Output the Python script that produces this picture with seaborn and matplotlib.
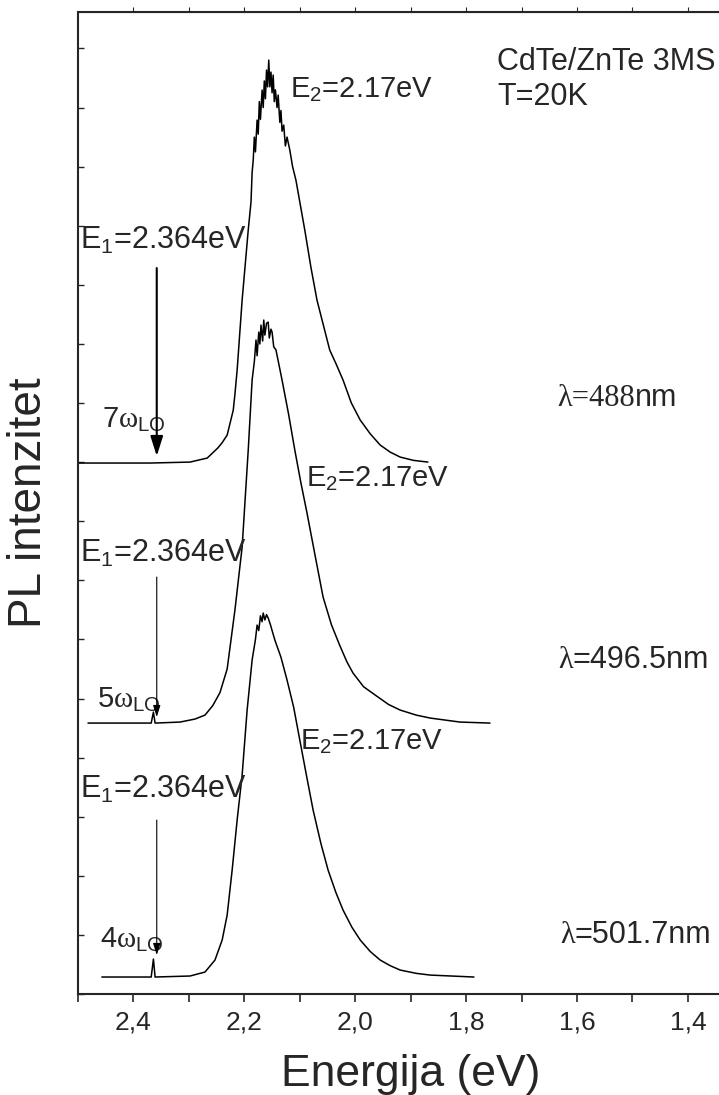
import matplotlib
matplotlib.use("Agg")
import matplotlib.pyplot as plt
import seaborn as sns

# PL spektri CdTe/ZnTe 3MS, T=20K, tri talasne duzine pobude
# energija (eV) i intenzitet (proizvoljne jedinice, vec pomereno po visini)

e_501 = [2.457, 2.388, 2.368, 2.364, 2.361, 2.298, 2.271, 2.253, 2.240, 2.231,
         2.222, 2.213, 2.204, 2.195, 2.186, 2.180, 2.177, 2.174, 2.171, 2.168,
         2.166, 2.163, 2.160, 2.157, 2.153, 2.145, 2.134, 2.123, 2.111, 2.100,
         2.088, 2.076, 2.062, 2.049, 2.035, 2.022, 2.006, 1.991, 1.973, 1.955,
         1.937, 1.919, 1.890, 1.865, 1.786]
i_501 = [288, 288, 288, 592, 288, 305, 372, 575, 914, 1337,
         2098, 2944, 3705, 4805, 5651, 6000, 6243, 6150, 6400, 6300,
         6447, 6330, 6420, 6362, 6250, 5990, 5700, 5313, 4850, 4298,
         3700, 3113, 2550, 2098, 1720, 1421, 1130, 914, 720, 575,
         480, 406, 350, 321, 288]

e_496 = [2.482, 2.388, 2.368, 2.364, 2.361, 2.316, 2.289, 2.271, 2.257, 2.244,
         2.231, 2.217, 2.204, 2.193, 2.186, 2.182, 2.179, 2.177, 2.174, 2.172,
         2.170, 2.167, 2.165, 2.163, 2.160, 2.157, 2.155, 2.152, 2.150, 2.147,
         2.143, 2.132, 2.120, 2.109, 2.098, 2.087, 2.072, 2.058, 2.043, 2.028,
         2.015, 2.004, 1.985, 1.964, 1.940, 1.919, 1.890, 1.865, 1.811, 1.757]
i_496 = [4585, 4585, 4585, 4771, 4585, 4602, 4653, 4720, 4880, 5100,
         5500, 6497, 7563, 9204, 10389, 10700, 11066, 10800, 11200, 11000,
         11319, 11050, 11404, 11150, 11350, 11370, 11100, 11250, 11201, 10950,
         10900, 10389, 9800, 9204, 8650, 8139, 7400, 6717, 6250, 5900,
         5620, 5431, 5200, 5059, 4900, 4805, 4720, 4670, 4602, 4585]

e_488 = [2.500, 2.370, 2.298, 2.267, 2.248, 2.240, 2.231, 2.226, 2.220, 2.217,
         2.213, 2.204, 2.193, 2.188, 2.186, 2.184, 2.182, 2.180, 2.177, 2.175,
         2.173, 2.171, 2.168, 2.166, 2.164, 2.162, 2.160, 2.158, 2.156, 2.154,
         2.152, 2.150, 2.148, 2.146, 2.144, 2.141, 2.139, 2.136, 2.134, 2.132,
         2.129, 2.126, 2.123, 2.118, 2.113, 2.107, 2.091, 2.080, 2.069, 2.057,
         2.046, 2.034, 2.022, 2.007, 1.991, 1.973, 1.955, 1.937, 1.919, 1.895,
         1.869]
i_488 = [8985, 8985, 9001, 9069, 9238, 9330, 9458, 9650, 9881, 10150,
         10558, 11742, 12927, 13400, 13900, 14111, 14500, 14250, 14788, 14550,
         15100, 14800, 15296, 15000, 15450, 15150, 15634, 15350, 15803, 15350,
         15600, 15250, 15549, 15100, 15300, 15000, 15211, 14750, 14950, 14600,
         14703, 14350, 14500, 14280, 14000, 13773, 12927, 12300, 11742, 11300,
         10896, 10650, 10389, 10000, 9712, 9480, 9289, 9170, 9086, 9030,
         9001]

e_arrow = 2.358
# pocetak i vrh strelica za E1 (iste jedinice kao intenzitet)
arrow_top = [12284, 7056, 2944]
arrow_end = [9103, 4687, 660]

lambdas = ["488", "496.5", "501.7"]

sns.set_style("ticks")
plt.rcParams["font.family"] = ["Liberation Sans", "DejaVu Sans"]
plt.rcParams["mathtext.fontset"] = "custom"
plt.rcParams["mathtext.rm"] = "Liberation Sans"
plt.rcParams["mathtext.it"] = "Liberation Serif"
plt.rcParams["mathtext.default"] = "rm"

fig = plt.figure(figsize=(7.19, 10.95), dpi=100)
ax = fig.add_axes([0.1085, 0.0922, 0.9254, 0.8968])

for e, i in [(e_501, i_501), (e_496, i_496), (e_488, i_488)]:
    sns.lineplot(x=e, y=i, sort=False, estimator=None, color="black",
                 linewidth=1.1, ax=ax)

ax.set_xlim(2.5, 1.3)
ax.set_ylim(0, 16616)
ax.set_xticks([2.4, 2.2, 2.0, 1.8, 1.6, 1.4])
ax.set_xticklabels(["2,4", "2,2", "2,0", "1,8", "1,6", "1,4"])
ax.set_xticks([2.5, 2.3, 2.1, 1.9, 1.7, 1.5], minor=True)
ax.set_yticks(range(0, 17000, 1000))
ax.set_yticklabels([])
ax.tick_params(axis="x", which="both", direction="out", length=6, width=1.2,
               labelsize=19, pad=6)
ax.tick_params(axis="y", which="both", direction="in", length=4, width=1.0)
ax.secondary_xaxis("top").set_xticks([2.4, 2.2, 2.0, 1.8, 1.6, 1.4, 2.3, 2.1,
                                      1.9, 1.7, 1.5], labels=[])
for s in ax.spines.values():
    s.set_linewidth(1.5)

ax.set_xlabel("Energija (eV)", fontsize=32, labelpad=14)
ax.set_ylabel("PL intenzitet", fontsize=33, labelpad=16)

# oznake
fs = 22
ax.text(2.118, 15296, r"E$_2$=2.17eV", fontsize=21, va="center")
ax.text(2.089, 8714, r"E$_2$=2.17eV", fontsize=21, va="center")
ax.text(2.100, 4264, r"E$_2$=2.17eV", fontsize=21, va="center")
for y in [12758, 7462, 3469]:
    ax.text(2.496, y, r"E$_1$=2.364eV", fontsize=fs, va="center")
ax.text(2.457, 9712, r"7$\mathit{\omega}_{LO}$", fontsize=21, va="center")
ax.text(2.466, 4974, r"5$\mathit{\omega}_{LO}$", fontsize=21, va="center")
ax.text(2.460, 914, r"4$\mathit{\omega}_{LO}$", fontsize=21, va="center")

ax.annotate("", xy=(e_arrow, arrow_end[0]), xytext=(e_arrow, arrow_top[0]),
            arrowprops=dict(arrowstyle="-|>,head_length=1.2,head_width=0.38",
                            color="black", lw=1.5, shrinkA=0, shrinkB=0))
for k in [1, 2]:
    ax.annotate("", xy=(e_arrow, arrow_end[k]), xytext=(e_arrow, arrow_top[k]),
                arrowprops=dict(arrowstyle="-|>,head_length=0.7,head_width=0.22",
                                color="black", lw=0.8, shrinkA=0, shrinkB=0))

# lambda oznake: grcko slovo serifno, ostatak bez serifa (kao u originalu)
t = ax.text(1.636, 10084, "λ=" + lambdas[0], fontsize=22, va="center",
            family="Liberation Serif")
ax.annotate("nm", xy=(1, 0.5), xycoords=t, fontsize=22, va="center")
for x, y, lam in [(1.634, 5651, lambdas[1]), (1.631, 998, lambdas[2])]:
    t = ax.text(x, y, "λ", fontsize=22, va="center", family="Liberation Serif")
    ax.annotate("=" + lam + "nm", xy=(1, 0.5), xycoords=t, fontsize=22,
                va="center")

ax.text(1.744, 15769, "CdTe/ZnTe 3MS", fontsize=22, va="center")
ax.text(1.744, 15177, "T=20K", fontsize=22, va="center")

fig.savefig("out.png", dpi=100)
